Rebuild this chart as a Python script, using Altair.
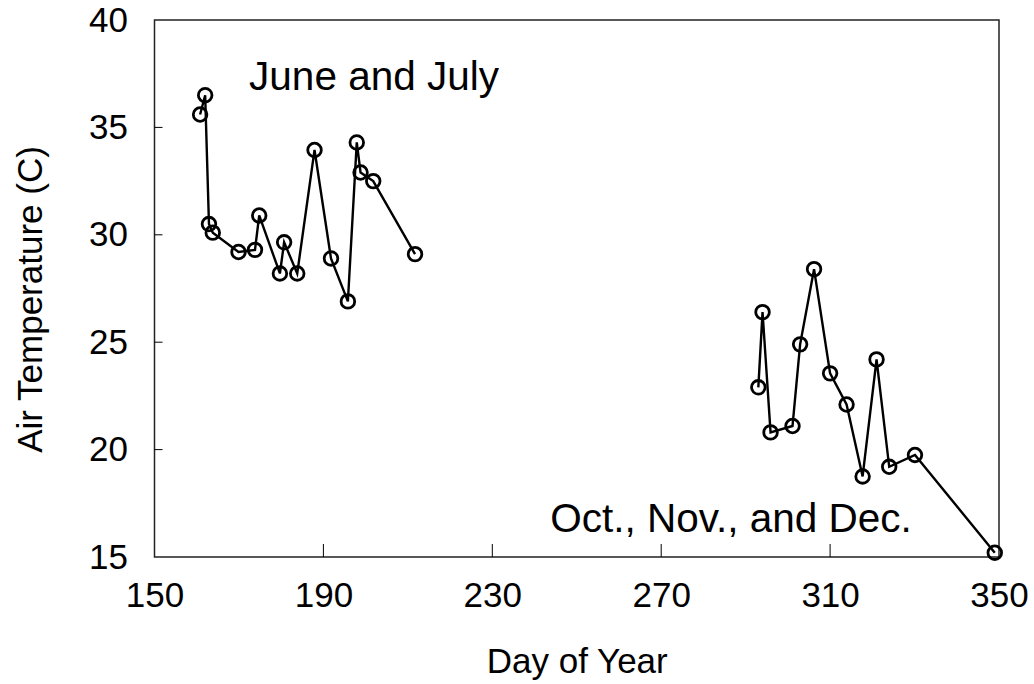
import altair as alt
import pandas as pd

# Summer series (June and July)
summer_day = [160.8, 162.0, 162.9, 163.8, 169.9, 173.8, 174.8, 179.7, 180.7, 183.8,
              187.9, 191.8, 195.8, 197.9, 198.8, 201.8, 211.7]
summer_temp = [35.6, 36.5, 30.5, 30.1, 29.2, 29.3, 30.9, 28.2, 29.65, 28.2,
               33.95, 28.9, 26.9, 34.3, 32.9, 32.5, 29.1]

# Fall series (Oct., Nov., and Dec.)
fall_day = [293.0, 294.0, 295.9, 301.1, 302.9, 306.2, 310.0, 313.9, 317.7, 321.0,
            324.0, 330.1, 349.0]
fall_temp = [22.9, 26.4, 20.8, 21.1, 24.9, 28.4, 23.55, 22.1, 18.75, 24.2,
             19.2, 19.75, 15.2]

x_ticks = [150, 190, 230, 270, 310, 350]
y_ticks = [15, 20, 25, 30, 35, 40]
inner_x_ticks = [190, 230, 270, 310]
inner_y_ticks = [20, 25, 30, 35]

annot_text = ["June and July", "Oct., Nov., and Dec."]
annot_day = [172.4, 243.7]
annot_temp = [36.75, 16.15]

FONT = "Liberation Sans"
W, H = 844.5, 537

df = pd.DataFrame({
    "day": summer_day + fall_day,
    "temp": summer_temp + fall_temp,
    "group": ["summer"] * len(summer_day) + ["fall"] * len(fall_day),
})
ann = pd.DataFrame({"text": annot_text, "day": annot_day, "temp": annot_temp})
xt = pd.DataFrame({"day": inner_x_ticks})
yt = pd.DataFrame({"temp": inner_y_ticks})

xs = alt.Scale(domain=[150, 350], nice=False, zero=False)
ys = alt.Scale(domain=[15, 40], nice=False, zero=False)

xaxis = alt.Axis(values=x_ticks, title="Day of Year", grid=False, domain=False,
                 ticks=False, tickSize=0, labelPadding=21, labelFontSize=35,
                 labelFont=FONT, labelColor="black", titleFont=FONT,
                 titleFontSize=35, titleFontWeight="normal", titleColor="black",
                 titleBaseline="alphabetic", titleY=115, labelFlush=False)
yaxis = alt.Axis(values=y_ticks, title="Air Temperature (C)", grid=False,
                 domain=False, ticks=False, tickSize=0, labelPadding=27,
                 labelFontSize=35, labelFont=FONT, labelColor="black",
                 titleFont=FONT, titleFontSize=35, titleFontWeight="normal",
                 titleColor="black", titleBaseline="alphabetic", titleX=-113,
                 titleY=279, labelFlush=False)

base = alt.Chart(df)
lines = base.mark_line(color="black", strokeWidth=2.4).encode(
    x=alt.X("day:Q", scale=xs, axis=xaxis),
    y=alt.Y("temp:Q", scale=ys, axis=yaxis),
    detail="group:N",
)
points = base.mark_point(shape="circle", filled=False, color="black",
                         strokeWidth=2.8, size=185, opacity=1).encode(
    x=alt.X("day:Q", scale=xs),
    y=alt.Y("temp:Q", scale=ys),
)
texts = alt.Chart(ann).mark_text(align="left", baseline="alphabetic",
                                 font=FONT, fontSize=40.5, color="black").encode(
    x=alt.X("day:Q", scale=xs),
    y=alt.Y("temp:Q", scale=ys),
    text="text:N",
)
xtick_marks = alt.Chart(xt).mark_rule(color="black", strokeWidth=1).encode(
    x=alt.X("day:Q", scale=xs),
    y=alt.value(H),
    y2=alt.value(H - 13),
)
ytick_marks = alt.Chart(yt).mark_rule(color="black", strokeWidth=1).encode(
    y=alt.Y("temp:Q", scale=ys),
    x=alt.value(0),
    x2=alt.value(8),
)

chart = alt.layer(xtick_marks, ytick_marks, lines, points, texts).properties(
    width=W, height=H,
    autosize=alt.AutoSizeParams(type="none"),
    padding={"left": 154.5, "top": 20, "right": 34.5, "bottom": 127},
    background="white",
).configure_view(stroke="#222222", strokeWidth=1.5)

chart.save("out.html", embed_options={"renderer": "svg", "actions": False})
